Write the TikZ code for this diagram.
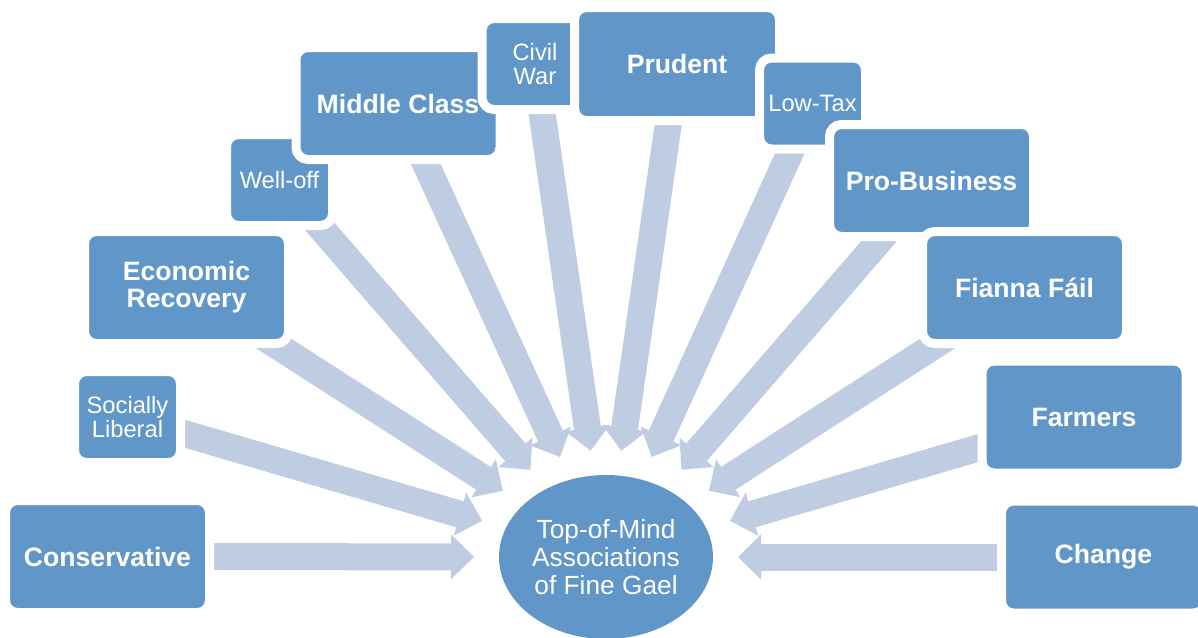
\documentclass[tikz,border=0pt]{standalone}
\usepackage{fontspec}
\setmainfont{Liberation Sans}
\definecolor{boxblue}{RGB}{97,150,201}
\definecolor{arrowblue}{RGB}{190,205,226}
\usetikzlibrary{shapes.geometric,arrows.meta,backgrounds}

\begin{document}
\begin{tikzpicture}[x=1pt, y=-1pt,
    box/.style={fill=boxblue, draw=white, line width=9pt, rounded corners=12pt,
        outer sep=0pt, inner sep=0pt, text=white, align=center},
    bigbox/.style={box, minimum width=204pt, minimum height=112pt,
        font=\fontsize{26.6}{27}\selectfont\bfseries},
    smallbox/.style={box, minimum width=106pt, minimum height=91pt,
        font=\fontsize{23.7}{24.5}\selectfont},
    flow/.style={arrowblue, line width=27pt, shorten >=25pt,
        -{Triangle[length=23pt, width=45pt, line width=0pt]}}]
    \useasboundingbox (0,0) rectangle (1198,637);

    % Centre
    \node[ellipse, fill=boxblue, minimum width=214pt, minimum height=164pt,
        inner sep=0pt, outer sep=0pt, text=white, align=center,
        font=\fontsize{26.3}{28}\selectfont] (fg) at (606,557)
        {Top-of-Mind\\Associations\\of Fine Gael};

    % Associations, clockwise
    \node[bigbox] (cons) at (107.5,556.5) {Conservative};
    \node[smallbox] (soclib) at (127.5,417) {Socially\\Liberal};
    \node[bigbox] (econ) at (186.5,287.5) {Economic\\Recovery};
    \node[smallbox] (welloff) at (279.5,180) {Well-off};
    \node[bigbox] (midcl) at (398,103.5) {Middle Class};
    \node[smallbox] (civwar) at (535,64) {Civil\\War};
    \node[bigbox, minimum width=205pt, minimum height=113pt] (prud) at (677,64) {Prudent};
    \node[smallbox] (lowtax) at (812.5,103.5) {Low-Tax};
    \node[bigbox] (probus) at (931.5,180.5) {Pro-Business};
    \node[bigbox] (fianna) at (1024.5,287.5) {Fianna Fáil};
    \node[bigbox] (farm) at (1084,417) {Farmers};
    \node[bigbox] (change) at (1103.5,557) {Change};

    % Arrows behind the boxes
    \begin{scope}[on background layer]
        \foreach \src in {cons,soclib,econ,welloff,midcl,civwar,prud,lowtax,probus,fianna,farm,change}
            \draw[flow] (\src.center) -- (fg);
    \end{scope}
\end{tikzpicture}
\end{document}
